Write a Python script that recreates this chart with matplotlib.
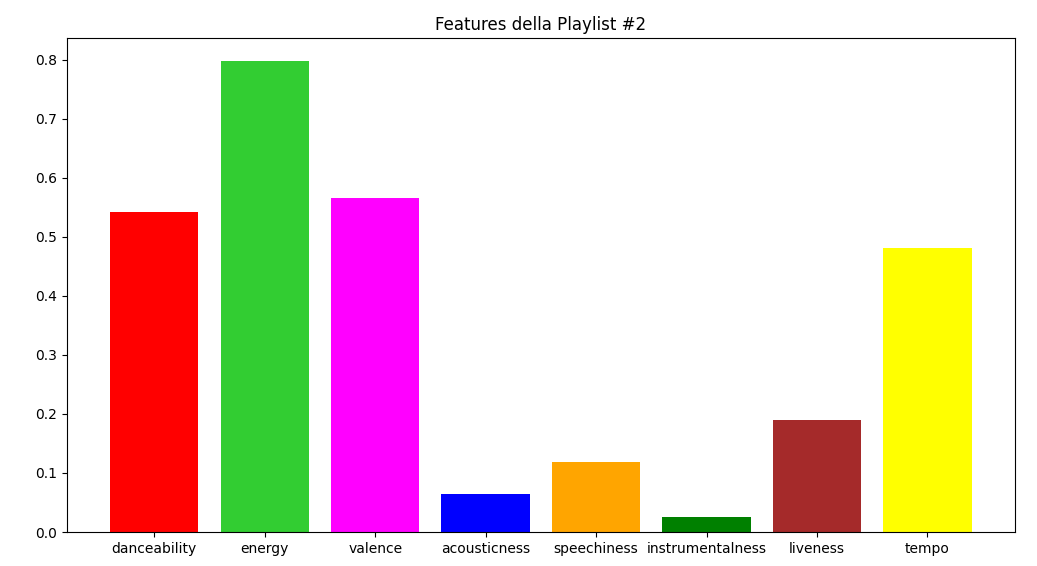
import matplotlib.pyplot as plt

features = ['danceability', 'energy', 'valence', 'acousticness',
            'speechiness', 'instrumentalness', 'liveness', 'tempo']
values = [0.542, 0.797, 0.566, 0.065, 0.118, 0.026, 0.190, 0.481]
colors = ['red', 'limegreen', 'magenta', 'blue', 'orange', 'green', 'brown', 'yellow']

fig, ax = plt.subplots(figsize=(10.37, 5.66), dpi=100)
fig.subplots_adjust(left=0.0646, right=0.9785, top=0.933, bottom=0.06)

ax.bar(features, values, color=colors)
ax.set_title('Features della Playlist #2')

fig.savefig('out.png', dpi=100)
